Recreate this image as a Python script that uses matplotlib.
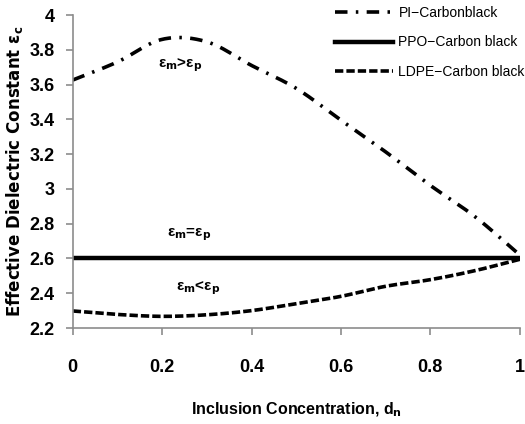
import matplotlib
matplotlib.use("Agg")
import matplotlib.pyplot as plt
import numpy as np

plt.rcParams['font.family'] = ['Liberation Sans', 'DejaVu Sans']
plt.rcParams['lines.scale_dashes'] = False

x = [0.0, 0.1, 0.2, 0.3, 0.4, 0.5, 0.6, 0.7, 0.8, 0.9, 1.0]
pi_vals = [3.626, 3.73, 3.86, 3.846, 3.71, 3.578, 3.395, 3.213, 3.02, 2.84, 2.62]
ppo_vals = [2.6] * 11
ldpe_vals = [2.298, 2.278, 2.267, 2.276, 2.30, 2.34, 2.382, 2.44, 2.478, 2.53, 2.595]

xticks = [0, 0.2, 0.4, 0.6, 0.8, 1]
xtick_labels = ['0', '0.2', '0.4', '0.6', '0.8', '1']
yticks = [2.2, 2.4, 2.6, 2.8, 3.0, 3.2, 3.4, 3.6, 3.8, 4.0]
ytick_labels = ['2.2', '2.4', '2.6', '2.8', '3', '3.2', '3.4', '3.6', '3.8', '4']


def smooth(xs, ys, n=200):
    # Catmull-Rom smoothing through the read points
    xs = np.asarray(xs); ys = np.asarray(ys)
    t = np.linspace(0, len(xs) - 1, n)
    out_x, out_y = [], []
    P = np.column_stack([xs, ys])
    P = np.vstack([2 * P[0] - P[1], P, 2 * P[-1] - P[-2]])
    for tt in t:
        i = min(int(tt), len(xs) - 2)
        u = tt - i
        p0, p1, p2, p3 = P[i], P[i + 1], P[i + 2], P[i + 3]
        pt = 0.5 * ((2 * p1) + (-p0 + p2) * u + (2 * p0 - 5 * p1 + 4 * p2 - p3) * u ** 2
                    + (-p0 + 3 * p1 - 3 * p2 + p3) * u ** 3)
        out_x.append(pt[0]); out_y.append(pt[1])
    return out_x, out_y


fig = plt.figure(figsize=(5.25, 4.24), dpi=100)
ax = fig.add_axes([0.1385, 0.2264, 0.8515, 0.7382])

sx, sy = smooth(x, pi_vals)
ax.plot(sx, sy, color='black', lw=2.6, dashes=(9, 6, 1.8, 6), label='PI\u2212Carbonblack')
ax.plot(x, ppo_vals, color='black', lw=3.2, label='PPO\u2212Carbon black')
sx, sy = smooth(x, ldpe_vals)
ax.plot(sx, sy, color='black', lw=2.6, dashes=(6, 2.2), label='LDPE\u2212Carbon black')

ax.set_xlim(0, 1)
ax.set_ylim(2.2, 4.0)
ax.set_xticks(xticks)
ax.set_xticklabels(xtick_labels)
ax.set_yticks(yticks)
ax.set_yticklabels(ytick_labels)

for s in ['top', 'right']:
    ax.spines[s].set_visible(False)
for s in ['left', 'bottom']:
    ax.spines[s].set_color('#8c8c8c')
    ax.spines[s].set_linewidth(1.2)
ax.tick_params(axis='both', colors='#8c8c8c', length=5, width=1.2, direction='out',
               labelcolor='black', labelsize=13)
ax.tick_params(axis='x', pad=17)
ax.tick_params(axis='y', pad=8)
for lab in ax.get_xticklabels() + ax.get_yticklabels():
    lab.set_fontweight('bold')

ax.set_xlabel('Inclusion Concentration, d$_\\mathbf{n}$', fontsize=11.5, fontweight='bold', labelpad=18)
ax.set_ylabel('Effective Dielectric Constant \u03b5$_\\mathbf{c}$', fontsize=12, fontweight='bold',
              labelpad=3, family=['DejaVu Sans'])

ax.text(0.24, 3.71, '\u03b5$_\\mathbf{m}$>\u03b5$_\\mathbf{p}$', fontsize=11, fontweight='bold', ha='center', va='center')
ax.text(0.26, 2.738, '\u03b5$_\\mathbf{m}$=\u03b5$_\\mathbf{p}$', fontsize=11, fontweight='bold', ha='center', va='center')
ax.text(0.28, 2.43, '\u03b5$_\\mathbf{m}$<\u03b5$_\\mathbf{p}$', fontsize=11, fontweight='bold', ha='center', va='center')

leg = ax.legend(loc='upper left', bbox_to_anchor=(0.632, 0.992), bbox_transform=fig.transFigure,
                frameon=False, fontsize=10, handlelength=4.2, handletextpad=0.4,
                labelspacing=1.1, borderaxespad=0, borderpad=0.2)

fig.savefig('out.png', dpi=100)
